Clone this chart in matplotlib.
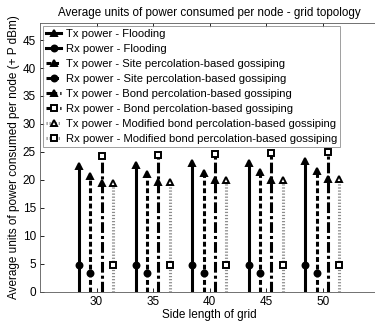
import numpy as np
import matplotlib
matplotlib.use("Agg")
import matplotlib.pyplot as plt
from matplotlib.lines import Line2D
from matplotlib.legend_handler import HandlerLine2D

plt.rcParams['font.family'] = ['Liberation Sans', 'DejaVu Sans']

side = [30, 35, 40, 45, 50]

tx_flood = [22.4, 22.7, 23.0, 23.1, 23.3]
rx_flood = [4.8, 4.8, 4.8, 4.8, 4.8]
tx_site = [20.7, 21.1, 21.3, 21.4, 21.6]
rx_site = [3.3, 3.3, 3.3, 3.3, 3.3]
tx_bond = [19.4, 19.7, 19.9, 20.0, 20.1]
rx_bond = [24.2, 24.5, 24.7, 24.8, 24.9]
tx_mod = [19.4, 19.7, 19.9, 20.0, 20.1]
rx_mod = [4.8, 4.8, 4.8, 4.8, 4.8]

schemes = ['Flooding', 'Site percolation-based gossiping',
           'Bond percolation-based gossiping',
           'Modified bond percolation-based gossiping']
offsets = [-1.55, -0.55, 0.45, 1.45]


class StemHandler(HandlerLine2D):
    # marker at the right end of the legend line, like matlab stem
    def get_xdata(self, legend, xdescent, ydescent, width, height, fontsize):
        return [-xdescent, -xdescent + width], [-xdescent + width]


fig = plt.figure(figsize=(3.75, 3.23), dpi=100)
ax = fig.add_axes([40 / 375, 31.3 / 323, 339.5 / 375, 268.4 / 323])

lw = 2.2
ms_tx, ms_rx, mew = 4.8, 4.3, 1.4
styles = [
    dict(ls='-', color='black'),
    dict(ls=(0, (1.6, 0.9)), color='black'),
    dict(ls=(0, (3.5, 1.0, 1.0, 1.0)), color='black'),
    dict(ls=(0, (0.4, 0.6)), color='0.55'),
]
tx_all = [tx_flood, tx_site, tx_bond, tx_mod]
rx_all = [rx_flood, rx_site, rx_bond, rx_mod]
tx_face = ['black', 'black', 'black', 'white']
rx_mark = ['o', 'o', 's', 's']
rx_face = ['black', 'black', 'white', 'white']

handles = []
labels = []
for i in range(4):
    xs = np.array(side) + offsets[i]
    tx = np.array(tx_all[i])
    rx = np.array(rx_all[i])
    top = np.maximum(tx, rx)
    ax.vlines(xs, 0, top, linestyles=[styles[i]['ls']], colors=styles[i]['color'],
              linewidth=lw, zorder=2)
    ax.plot(xs, tx, linestyle='none', marker='^', markersize=ms_tx,
            markerfacecolor=tx_face[i], markeredgecolor='black', markeredgewidth=mew, zorder=3)
    ax.plot(xs, rx, linestyle='none', marker=rx_mark[i], markersize=ms_rx,
            markerfacecolor=rx_face[i], markeredgecolor='black', markeredgewidth=mew, zorder=3)
    h_tx = Line2D([], [], linestyle=styles[i]['ls'], color=styles[i]['color'], linewidth=lw,
                  marker='^', markersize=ms_tx, markerfacecolor=tx_face[i],
                  markeredgecolor='black', markeredgewidth=mew)
    h_rx = Line2D([], [], linestyle=styles[i]['ls'], color=styles[i]['color'], linewidth=lw,
                  marker=rx_mark[i], markersize=ms_rx, markerfacecolor=rx_face[i],
                  markeredgecolor='black', markeredgewidth=mew)
    handles += [h_tx, h_rx]
    labels += ['Tx power - ' + schemes[i], 'Rx power - ' + schemes[i]]

ax.set_xlim(25, 55)
ax.set_ylim(0, 48)
ax.set_xticks(side)
ax.set_yticks(np.arange(0, 46, 5))
ax.tick_params(direction='in', length=3, width=0.6, labelsize=8.5, top=True, right=False,
               labeltop=False, pad=3)
ax.spines['right'].set_visible(False)
for s in ax.spines.values():
    s.set_linewidth(0.6)
    s.set_color('0.35')

ax.set_title('Average units of power consumed per node - grid topology', fontsize=8.4, pad=5)
ax.set_xlabel('Side length of grid', fontsize=8.5, labelpad=1)
ax.set_ylabel('Average units of power consumed per node (+ P dBm)', fontsize=8.5, labelpad=2)

leg = ax.legend(handles, labels, loc='upper left', fontsize=8.1, frameon=True, fancybox=False,
                handlelength=1.4, handletextpad=0.4, borderaxespad=0.25, borderpad=0.25,
                labelspacing=0.45, handler_map={Line2D: StemHandler()})
leg.get_frame().set_edgecolor('0.45')
leg.get_frame().set_linewidth(0.6)

fig.savefig('out.png', dpi=100)
